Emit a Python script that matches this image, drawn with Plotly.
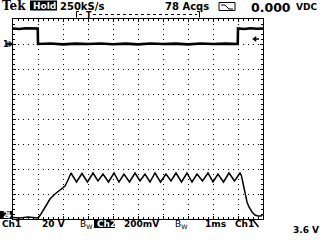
import plotly.graph_objects as go

W, H = 320, 240

# ---- data (time in ms, 1 ms/div) ----
# Ch1: 20 V/div, ground marker at +3 div
ch1_t = [0.0, 0.25, 0.5, 0.75, 0.99, 1.0, 1.5, 2.0, 2.5, 3.0, 3.5, 4.0, 4.5, 5.0,
         5.5, 6.0, 6.5, 7.0, 7.5, 8.0, 8.5, 8.99, 9.0, 9.25, 9.5, 9.75, 10.0]
ch1_v = [12.4, 12.0, 12.6, 12.2, 12.4, 0.0, 0.4, -0.3, 0.3, 0.0, 0.4, -0.2, 0.3, -0.3,
         0.4, 0.0, 0.3, -0.3, 0.4, 0.0, 0.3, 0.0, 12.4, 12.0, 12.6, 12.2, 12.4]

# Ch2: 200 mV/div, ground at bottom of screen
ch2_t = [0.0, 0.28, 0.6, 0.88, 1.0, 1.12, 1.28, 1.48, 1.68, 1.88, 2.08, 2.2, 2.32,
         2.54, 2.76, 2.98, 3.2, 3.4, 3.6, 3.82, 4.04, 4.24, 4.44, 4.66, 4.88, 5.08,
         5.28, 5.48, 5.68, 5.9, 6.12, 6.32, 6.52, 6.74, 6.96, 7.16, 7.36, 7.58, 7.8,
         8.0, 8.2, 8.42, 8.64, 8.86, 9.08, 9.14, 9.2, 9.28, 9.36, 9.44, 9.56, 9.68,
         9.8, 9.92, 10.0]
ch2_mv = [12, 8, 16, 8, 8, 40, 96, 160, 200, 232, 264, 312, 368,
          296, 364, 296, 368, 304, 360, 296, 368, 296, 360, 296, 368, 304,
          360, 296, 368, 296, 360, 304, 368, 296, 368, 296, 360, 304, 368,
          296, 360, 296, 368, 304, 368, 344, 280, 192, 136, 96, 56, 32,
          24, 24, 40]

fig = go.Figure()
fig.add_trace(go.Scatter(x=ch1_t, y=ch1_v, mode="lines",
                         line=dict(color="black", width=2.6), yaxis="y", showlegend=False))
fig.add_trace(go.Scatter(x=ch2_t, y=ch2_mv, mode="lines",
                         line=dict(color="black", width=1.5), yaxis="y2", showlegend=False))


def px(x):
    return x / W


def py(y):
    return 1 - y / H


common = dict(showgrid=True, gridcolor="black", griddash="1px,4px", gridwidth=1,
              showline=True, linecolor="black", linewidth=1, mirror="ticks",
              ticks="inside", ticklen=3, tickcolor="black", tickwidth=1,
              showticklabels=False, zeroline=False, fixedrange=True)

fig.update_layout(
    width=W, height=H, margin=dict(l=0, r=0, t=0, b=0),
    paper_bgcolor="white", plot_bgcolor="white",
    xaxis=dict(range=[0, 10], domain=[13 / W, 263 / W], dtick=1, tick0=0,
               minor=dict(dtick=0.2, ticks="inside", ticklen=2, tickcolor="black", showgrid=False),
               **common),
    yaxis=dict(range=[-140, 20], domain=[21 / H, 221 / H], dtick=20, tick0=0,
               minor=dict(dtick=4, ticks="inside", ticklen=2, tickcolor="black", showgrid=False),
               **common),
    yaxis2=dict(range=[0, 1600], overlaying="y", visible=False, fixedrange=True),
)

anns = []


def ann(text, x, y, size, color="black", weight="bold", family="DejaVu Sans", xanchor="left"):
    anns.append(dict(text=text, x=px(x), y=py(y), xref="paper", yref="paper",
                     xanchor=xanchor, yanchor="middle", showarrow=False,
                     font=dict(family=family, size=size, color=color, weight=weight)))


shapes = []


def rect(x0, y0, x1, y1, fill="black", line=None):
    shapes.append(dict(type="rect", xref="paper", yref="paper",
                       x0=px(x0), x1=px(x1), y0=py(y0), y1=py(y1),
                       fillcolor=fill, line=dict(width=1 if line else 0, color=line or fill)))


def seg(x0, y0, x1, y1, width=1, dash="solid", color="black"):
    shapes.append(dict(type="line", xref="paper", yref="paper",
                       x0=px(x0), x1=px(x1), y0=py(y0), y1=py(y1),
                       line=dict(color=color, width=width, dash=dash)))


def poly(points, color="black"):
    path = "M " + " L ".join(f"{px(a)},{py(b)}" for a, b in points) + " Z"
    shapes.append(dict(type="path", xref="paper", yref="paper", path=path,
                       fillcolor=color, line=dict(color=color, width=0.5)))


# header
ann("Tek", 0, 6, 12, family="DejaVu Serif")
rect(30, 0.5, 57, 10.5)
ann("Hold", 31, 5.5, 9, color="white")
ann("250kS/s", 58, 6, 10)
ann("78 Acqs", 163, 6, 10)
rect(219, 2.5, 235, 10.5, fill="white", line="black")
shapes.append(dict(type="path", xref="paper", yref="paper",
                   path=f"M {px(221)},{py(5)} L {px(225)},{py(5)} L {px(229)},{py(9)} L {px(233)},{py(9)}",
                   line=dict(color="black", width=1)))
ann("0.000", 249, 7, 12.5)
ann("VDC", 294, 7, 9)

# record bracket
seg(76.5, 11.5, 76.5, 17.5)
seg(76.5, 11.5, 79, 11.5)
seg(199.5, 11.5, 199.5, 17.5)
seg(197, 11.5, 199.5, 11.5)
seg(79, 14.5, 85, 14.5, dash="dot")
seg(93, 14.5, 197, 14.5, dash="dot")
ann("T", 89, 15, 8, xanchor="center")

# ch1 ground marker "1->"
ann("1", 1, 44, 8)
seg(6, 44, 10, 44, width=1.5)
seg(8, 41.5, 8, 46.5, width=1)
poly([(9.5, 41.5), (13, 44), (9.5, 46.5)])

# trigger level arrow
poly([(252.5, 39), (256, 36.5), (256, 41.5)])
seg(255, 39, 259, 39, width=1.5)

# ch2 ground marker "2 down"
rect(0, 211, 12, 219)
ann("2", 0.5, 215, 8, color="white")
seg(9, 211.5, 9, 215.5, width=1.5, color="white")
poly([(6.8, 215), (11.2, 215), (9, 218.5)], color="white")

# bottom line
ann("Ch1", 0, 224, 9)
ann("20 V", 40, 224, 9)
ann("B<sub>W</sub>", 78, 224, 9, weight="normal")
rect(94, 219.5, 115, 228)
ann("Ch2", 95, 223.5, 9, color="white")
ann("200mV", 122, 224, 9)
ann("B<sub>W</sub>", 173, 224, 9, weight="normal")
ann("1ms", 203, 224, 9)
ann("Ch1", 233, 224, 9)
seg(253.5, 220.5, 258.5, 227, width=1.5)
seg(252, 220.5, 254, 220.5, width=1)
ann("3.6 V", 291, 230, 9)

fig.update_layout(annotations=anns, shapes=shapes)
fig.write_html("out.html")
